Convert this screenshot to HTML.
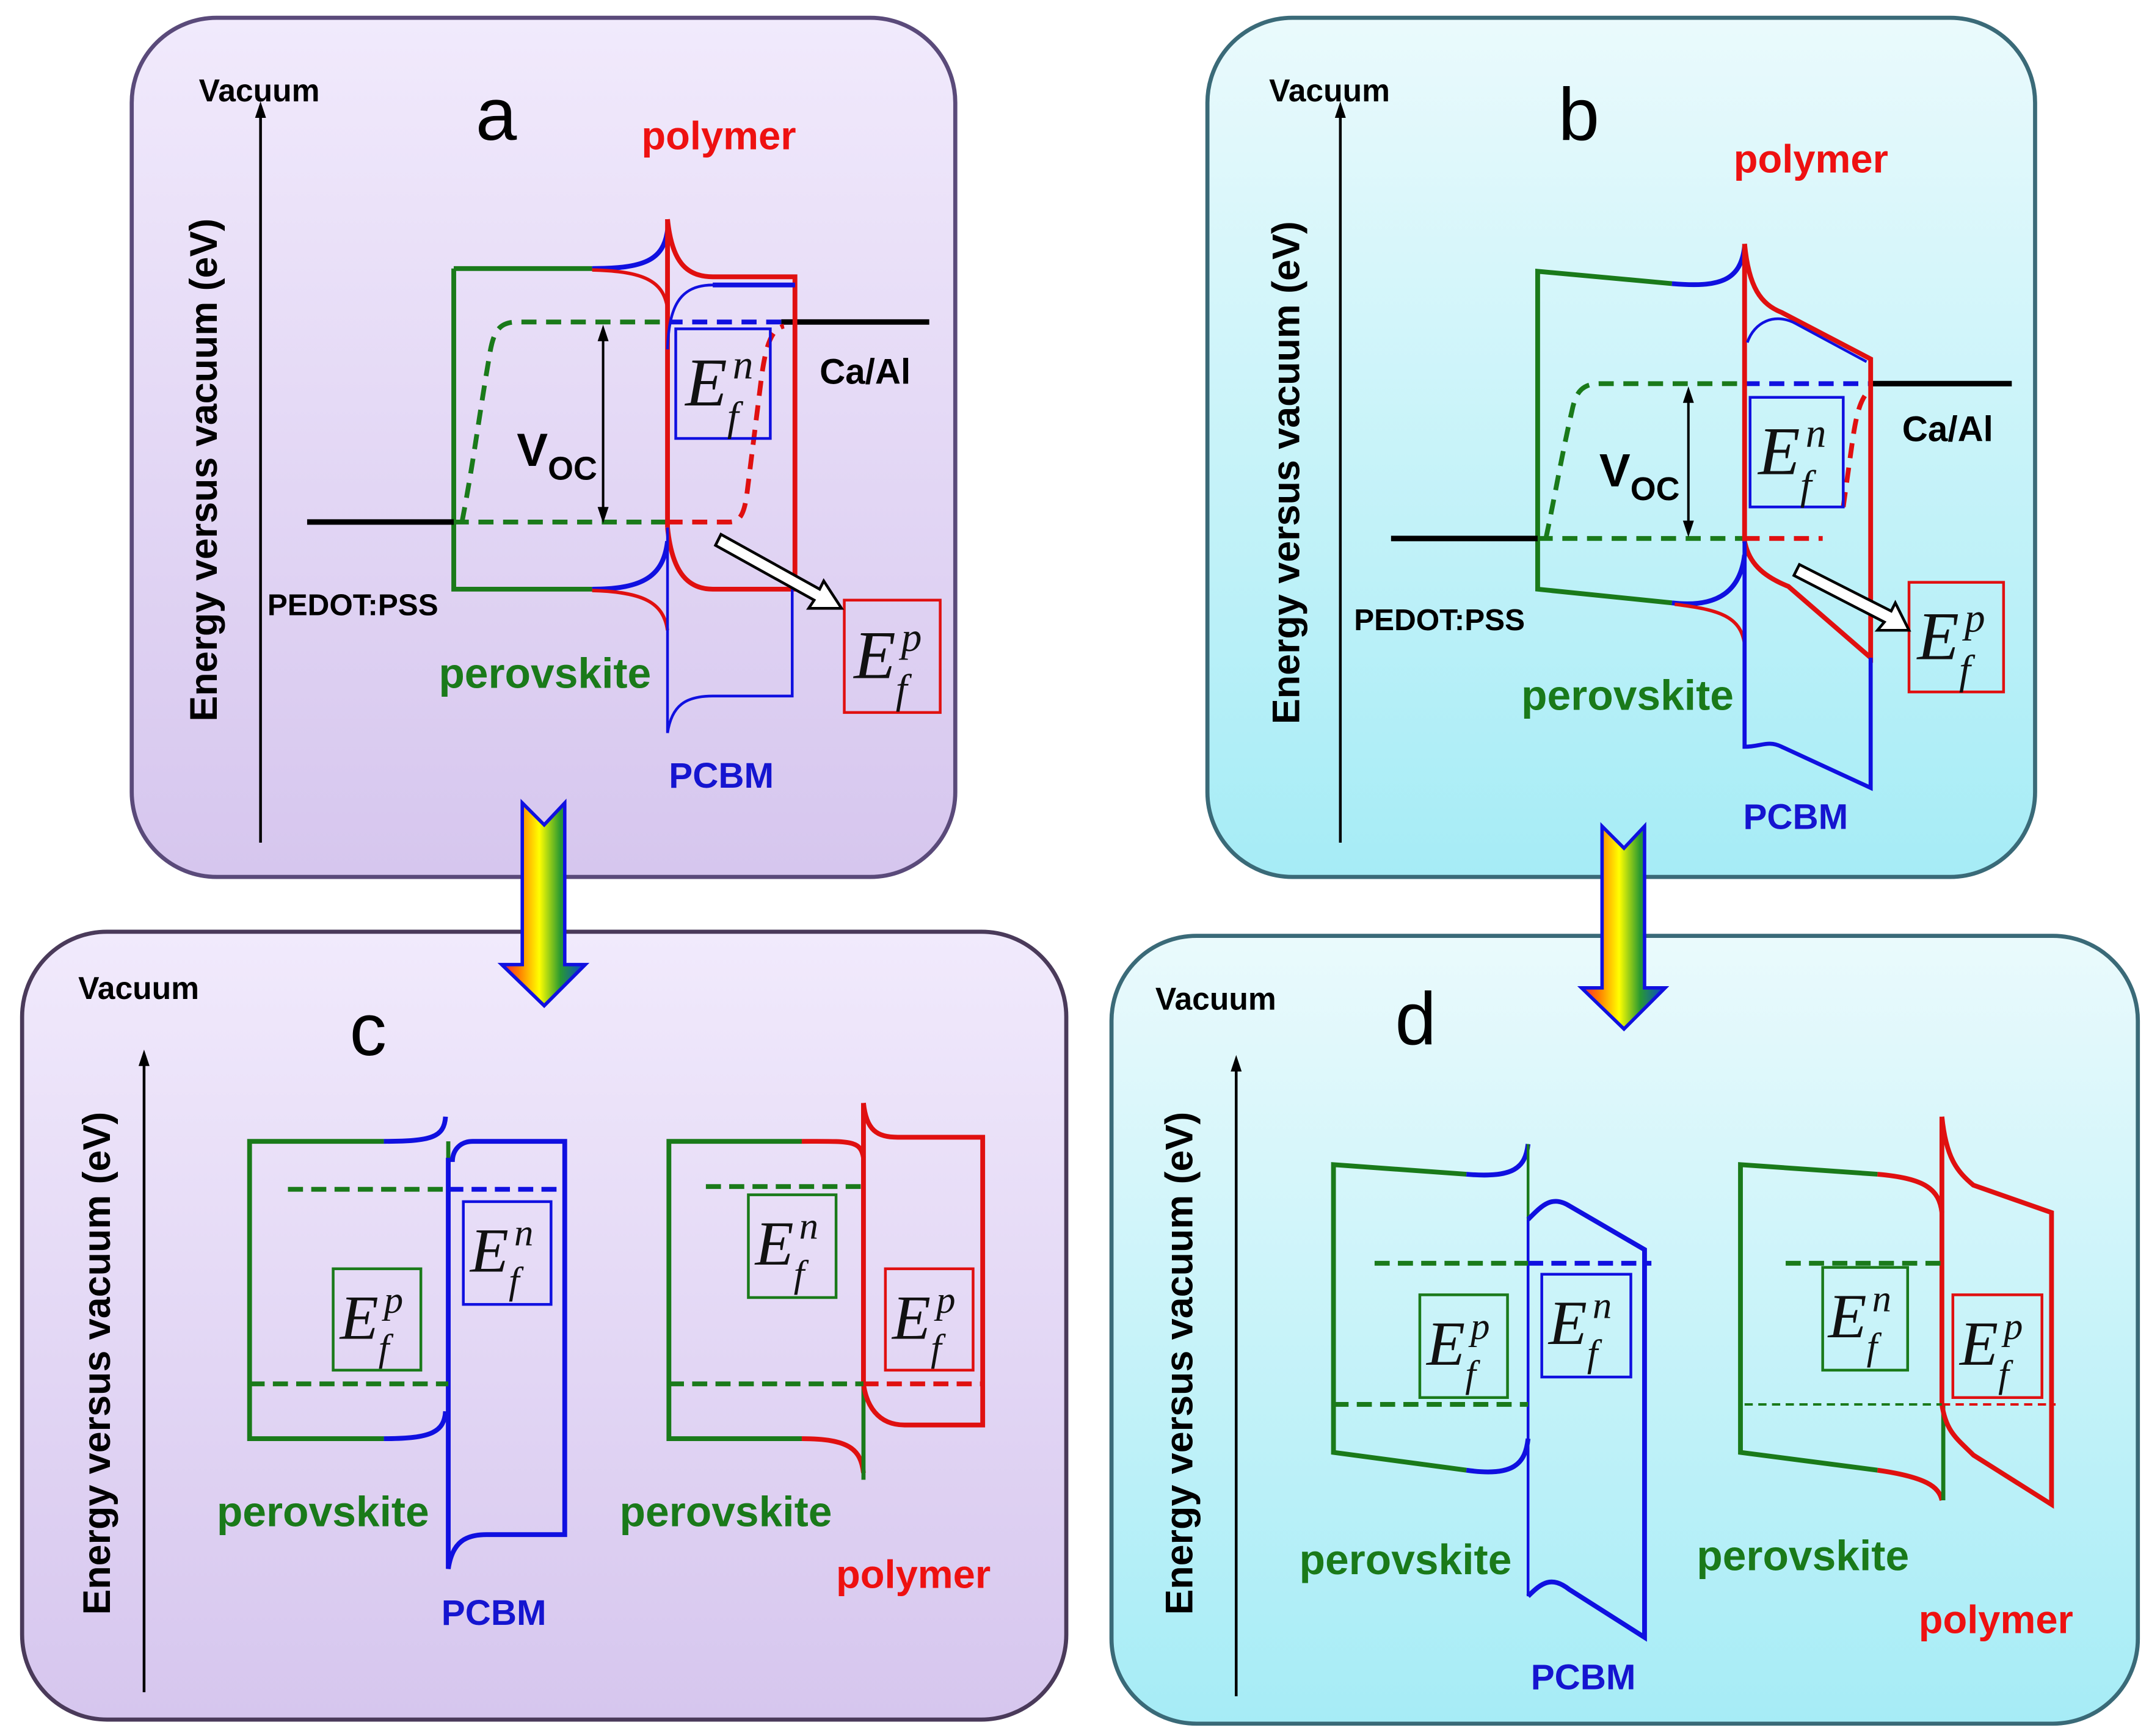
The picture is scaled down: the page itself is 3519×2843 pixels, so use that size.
<!DOCTYPE html>
<html><head><meta charset="utf-8"><style>html,body{margin:0;padding:0;background:#fff}svg{display:block}</style></head>
<body>
<svg width="3519" height="2843" viewBox="0 0 1568 1267" xmlns="http://www.w3.org/2000/svg" font-family="Liberation Sans, sans-serif">
<defs>
<linearGradient id="pur" x1="0" y1="0" x2="0" y2="1"><stop offset="0" stop-color="#f1eafc"/><stop offset="1" stop-color="#d6c6ee"/></linearGradient>
<linearGradient id="cy" x1="0" y1="0" x2="0" y2="1"><stop offset="0" stop-color="#eafafc"/><stop offset="1" stop-color="#a6ecf6"/></linearGradient>
<linearGradient id="rb" x1="0" y1="0" x2="1" y2="0"><stop offset="0" stop-color="#ff1a40"/><stop offset="0.2" stop-color="#ff7a00"/><stop offset="0.45" stop-color="#ffff00"/><stop offset="0.7" stop-color="#2a9a30"/><stop offset="0.9" stop-color="#1060a0"/><stop offset="1" stop-color="#2020ff"/></linearGradient>
</defs>
<rect width="1568" height="1267" fill="#fff"/>
<rect x="96" y="13" width="601" height="627" rx="62" fill="url(#pur)" stroke="#5a4a7a" stroke-width="3"/>
<rect x="881" y="13" width="604" height="627" rx="62" fill="url(#cy)" stroke="#3a6a78" stroke-width="3"/>
<rect x="16" y="680" width="762" height="575" rx="62" fill="url(#pur)" stroke="#4a3a5a" stroke-width="3"/>
<rect x="811" y="683" width="749" height="575" rx="62" fill="url(#cy)" stroke="#3a6a78" stroke-width="3"/>
<polygon points="381,586 397,602 412,586 412,704 427,704 397,734 366,704 381,704" fill="url(#rb)" stroke="#1010e0" stroke-width="2.5"/>
<polygon points="1169,603 1185,619 1200,603 1200,721 1215,721 1185,751 1154,721 1169,721" fill="url(#rb)" stroke="#1010e0" stroke-width="2.5"/>

<g fill="none" stroke-linecap="butt">
<line x1="190" y1="615" x2="190" y2="80" stroke="#000" stroke-width="2"/>
<polygon points="190,74 186,86 194,86" fill="#000"/>
<path d="M331,196 H432 M331,196 V430 H432" stroke="#1a7a1a" stroke-width="3.5"/>
<path d="M432,196 C470,196 484,190 487,168" stroke="#1010e0" stroke-width="3.5"/>
<path d="M432,197 C470,198 484,205 487,225" stroke="#e01010" stroke-width="2.5"/>
<path d="M432,430 C470,430 484,420 487,395" stroke="#1010e0" stroke-width="3.5"/>
<path d="M432,431 C470,432 484,440 487,460" stroke="#e01010" stroke-width="2.5"/>
<line x1="224" y1="381" x2="331" y2="381" stroke="#000" stroke-width="4"/>
<line x1="570" y1="235" x2="678" y2="235" stroke="#000" stroke-width="4"/>
<path d="M331,381 H487 M337,381 C345,340 350,300 357,260 C360,240 365,235 378,235 H487" stroke="#1a7a1a" stroke-width="3.5" stroke-dasharray="11,7"/>
<line x1="487" y1="235" x2="570" y2="235" stroke="#1010e0" stroke-width="3.5" stroke-dasharray="11,7"/>
<path d="M487,381 H532 C540,381 543,375 545,360 L555,280 C558,255 562,240 572,238" stroke="#e01010" stroke-width="3.5" stroke-dasharray="11,7"/>
<line x1="440" y1="245" x2="440" y2="373" stroke="#000" stroke-width="1.8"/>
<polygon points="440,237 436,249 444,249" fill="#000"/><polygon points="440,382 436,370 444,370" fill="#000"/>
<path d="M487,160 V385" stroke="#e01010" stroke-width="3.5"/>
<path d="M487,160 C490,190 500,202 520,202 H580 V430 H520 C500,430 490,415 487,385" stroke="#e01010" stroke-width="3.5"/>
<path d="M487,255 C488,225 495,208 520,208 H580" stroke="#1010e0" stroke-width="2"/>
<path d="M580,208 H520" stroke="#1010e0" stroke-width="3.5"/>
<path d="M487,385 V535 M487,535 C490,515 500,508 520,508 H578 V430" stroke="#1010e0" stroke-width="2"/>
<rect x="493" y="240" width="69" height="80" stroke="#1010e0" stroke-width="2"/>
<rect x="616" y="438" width="70" height="82" stroke="#e01010" stroke-width="2"/>
<polygon points="522,398 526,390 598,430 601,424 614,444 590,444 594,438" fill="#fff" stroke="#000" stroke-width="2"/>

<line x1="978" y1="615" x2="978" y2="80" stroke="#000" stroke-width="2"/>
<polygon points="978,74 974,86 982,86" fill="#000"/>
<path d="M1220,207 L1122,198 V430 L1220,440" stroke="#1a7a1a" stroke-width="3.5"/>
<path d="M1220,207 C1255,210 1270,205 1273,180" stroke="#1010e0" stroke-width="3.5"/>
<path d="M1220,440 C1255,444 1270,430 1273,405" stroke="#1010e0" stroke-width="3.5"/>
<path d="M1222,441 C1255,445 1270,450 1273,470" stroke="#e01010" stroke-width="2.5"/>
<line x1="1015" y1="393" x2="1122" y2="393" stroke="#000" stroke-width="4"/>
<line x1="1365" y1="280" x2="1468" y2="280" stroke="#000" stroke-width="4"/>
<path d="M1122,393 H1273 M1128,393 C1135,360 1140,330 1147,300 C1150,285 1155,280 1168,280 H1273" stroke="#1a7a1a" stroke-width="3.5" stroke-dasharray="11,7"/>
<line x1="1273" y1="280" x2="1365" y2="280" stroke="#1010e0" stroke-width="3.5" stroke-dasharray="11,7"/>
<path d="M1273,393 H1330 M1345,370 L1352,320 C1355,300 1358,290 1365,284" stroke="#e01010" stroke-width="3.5" stroke-dasharray="11,7"/>
<line x1="1232" y1="290" x2="1232" y2="384" stroke="#000" stroke-width="1.8"/>
<polygon points="1232,282 1228,294 1236,294" fill="#000"/><polygon points="1232,392 1228,380 1236,380" fill="#000"/>
<path d="M1273,178 V395" stroke="#e01010" stroke-width="3.5"/>
<path d="M1273,178 C1276,210 1285,222 1300,228 L1365,262 V480 L1305,428 C1285,420 1276,410 1273,395" stroke="#e01010" stroke-width="3.5"/>
<path d="M1275,250 C1280,235 1295,228 1310,236 L1362,264" stroke="#1010e0" stroke-width="2"/>
<path d="M1273,395 V545 C1285,545 1290,540 1300,545 L1365,575 V480" stroke="#1010e0" stroke-width="3"/>
<rect x="1277" y="290" width="68" height="80" stroke="#1010e0" stroke-width="2"/>
<rect x="1393" y="425" width="69" height="80" stroke="#e01010" stroke-width="2"/>
<polygon points="1309,420 1313,412 1380,446 1383,440 1393,460 1370,460 1375,454" fill="#fff" stroke="#000" stroke-width="2"/>

<line x1="105" y1="1235" x2="105" y2="772" stroke="#000" stroke-width="2"/>
<polygon points="105,766 101,778 109,778" fill="#000"/>
<path d="M280,833 H182 V1050 H280" stroke="#1a7a1a" stroke-width="3.5"/>
<path d="M280,833 C315,833 324,830 325,815" stroke="#1010e0" stroke-width="3.5"/>
<path d="M280,1050 C315,1050 324,1045 325,1030" stroke="#1010e0" stroke-width="3.5"/>
<line x1="327" y1="833" x2="327" y2="1040" stroke="#1a7a1a" stroke-width="3"/>
<path d="M327,845 V1145 C330,1125 340,1120 355,1120 H412 V833 H345 C335,833 330,840 330,848" stroke="#1010e0" stroke-width="3.5"/>
<path d="M210,868 H327" stroke="#1a7a1a" stroke-width="3.5" stroke-dasharray="11,6"/>
<path d="M327,868 H410" stroke="#1010e0" stroke-width="3.5" stroke-dasharray="11,6"/>
<path d="M182,1010 H327" stroke="#1a7a1a" stroke-width="3.5" stroke-dasharray="11,6"/>
<rect x="243" y="926" width="64" height="74" stroke="#1a7a1a" stroke-width="2"/>
<rect x="338" y="877" width="64" height="75" stroke="#1010e0" stroke-width="2"/>

<path d="M585,833 H488 V1050 H585" stroke="#1a7a1a" stroke-width="3.5"/>
<path d="M585,833 C620,833 628,832 630,845" stroke="#e01010" stroke-width="3.5"/>
<path d="M585,1050 C620,1050 628,1058 630,1075" stroke="#e01010" stroke-width="3.5"/>
<line x1="630" y1="1010" x2="630" y2="1080" stroke="#1a7a1a" stroke-width="3"/>
<path d="M630,805 V1010 M630,805 C632,825 640,830 655,830 H717 V1040 H660 C640,1040 632,1025 630,1010" stroke="#e01010" stroke-width="3.5"/>
<path d="M515,866 H630" stroke="#1a7a1a" stroke-width="3.5" stroke-dasharray="11,6"/>
<path d="M488,1010 H630" stroke="#1a7a1a" stroke-width="3.5" stroke-dasharray="11,6"/>
<path d="M630,1010 H717" stroke="#e01010" stroke-width="3.5" stroke-dasharray="11,6"/>
<rect x="546" y="872" width="64" height="75" stroke="#1a7a1a" stroke-width="2"/>
<rect x="646" y="926" width="64" height="74" stroke="#e01010" stroke-width="2"/>

<line x1="902" y1="1238" x2="902" y2="776" stroke="#000" stroke-width="2"/>
<polygon points="902,770 898,782 906,782" fill="#000"/>
<path d="M1070,857 L973,850 V1060 L1070,1073" stroke="#1a7a1a" stroke-width="3.5"/>
<path d="M1070,857 C1105,860 1113,852 1115,835" stroke="#1010e0" stroke-width="3.5"/>
<path d="M1070,1073 C1105,1078 1113,1068 1115,1050" stroke="#1010e0" stroke-width="3.5"/>
<line x1="1115" y1="835" x2="1115" y2="1060" stroke="#1a7a1a" stroke-width="2"/>
<path d="M1115,890 C1125,880 1132,872 1145,880 L1200,912 V1195 L1145,1160 C1132,1150 1125,1155 1115,1165" stroke="#1010e0" stroke-width="3.5"/>
<path d="M1115,890 V1165" stroke="#1010e0" stroke-width="2"/>
<path d="M1003,922 H1115" stroke="#1a7a1a" stroke-width="3.5" stroke-dasharray="11,6"/>
<path d="M1115,922 H1205" stroke="#1010e0" stroke-width="3.5" stroke-dasharray="11,6"/>
<path d="M973,1025 H1115" stroke="#1a7a1a" stroke-width="3.5" stroke-dasharray="11,6"/>
<rect x="1036" y="945" width="64" height="75" stroke="#1a7a1a" stroke-width="2"/>
<rect x="1125" y="930" width="65" height="75" stroke="#1010e0" stroke-width="2"/>

<path d="M1370,857 L1270,850 V1060 L1370,1073" stroke="#1a7a1a" stroke-width="3.5"/>
<path d="M1370,857 C1405,860 1415,868 1417,885" stroke="#e01010" stroke-width="3.5"/>
<path d="M1370,1073 C1405,1078 1415,1085 1417,1095" stroke="#e01010" stroke-width="3.5"/>
<line x1="1418" y1="1025" x2="1418" y2="1095" stroke="#1a7a1a" stroke-width="3"/>
<path d="M1417,815 V1025 M1417,815 C1420,845 1428,855 1440,865 L1497,885 V1098 L1440,1062 C1428,1050 1420,1045 1417,1025" stroke="#e01010" stroke-width="3.5"/>
<path d="M1303,922 H1417" stroke="#1a7a1a" stroke-width="3.5" stroke-dasharray="11,6"/>
<path d="M1273,1025 H1417" stroke="#1a7a1a" stroke-width="1.8" stroke-dasharray="6,4"/>
<path d="M1417,1025 H1500" stroke="#e01010" stroke-width="1.8" stroke-dasharray="6,4"/>
<rect x="1330" y="925" width="62" height="75" stroke="#1a7a1a" stroke-width="2"/>
<rect x="1425" y="945" width="65" height="75" stroke="#e01010" stroke-width="2"/>
</g>

<g font-weight="bold">
<text x="145" y="74" font-size="23">Vacuum</text>
<text x="926" y="74" font-size="23">Vacuum</text>
<text x="57" y="729" font-size="23">Vacuum</text>
<text x="843" y="737" font-size="23">Vacuum</text>
<text transform="translate(158,343) rotate(-90)" text-anchor="middle" font-size="28">Energy versus vacuum (eV)</text>
<text transform="translate(948,345) rotate(-90)" text-anchor="middle" font-size="28">Energy versus vacuum (eV)</text>
<text transform="translate(80,995) rotate(-90)" text-anchor="middle" font-size="28">Energy versus vacuum (eV)</text>
<text transform="translate(870,995) rotate(-90)" text-anchor="middle" font-size="28">Energy versus vacuum (eV)</text>
<text x="468" y="109" font-size="29" fill="#ee1111">polymer</text>
<text x="1265" y="126" font-size="29" fill="#ee1111">polymer</text>
<text x="610" y="1159" font-size="29" fill="#ee1111">polymer</text>
<text x="1400" y="1192" font-size="29" fill="#ee1111">polymer</text>
<text x="598" y="280" font-size="26">Ca/Al</text>
<text x="1388" y="322" font-size="26">Ca/Al</text>
<text x="195" y="449" font-size="22">PEDOT:PSS</text>
<text x="988" y="460" font-size="22">PEDOT:PSS</text>
<text x="320" y="502" font-size="31" fill="#1a7a1a">perovskite</text>
<text x="1110" y="518" font-size="31" fill="#1a7a1a">perovskite</text>
<text x="158" y="1114" font-size="31" fill="#1a7a1a">perovskite</text>
<text x="452" y="1114" font-size="31" fill="#1a7a1a">perovskite</text>
<text x="948" y="1149" font-size="31" fill="#1a7a1a">perovskite</text>
<text x="1238" y="1146" font-size="31" fill="#1a7a1a">perovskite</text>
<text x="488" y="575" font-size="26" fill="#1515d0">PCBM</text>
<text x="1272" y="605" font-size="26" fill="#1515d0">PCBM</text>
<text x="322" y="1186" font-size="26" fill="#1515d0">PCBM</text>
<text x="1117" y="1233" font-size="26" fill="#1515d0">PCBM</text>
<text x="377" y="340" font-size="34">V<tspan font-size="24" dy="10">OC</tspan></text>
<text x="1167" y="355" font-size="34">V<tspan font-size="24" dy="10">OC</tspan></text>
</g>
<g font-size="54">
<text x="347" y="102">a</text>
<text x="1137" y="102">b</text>
<text x="255" y="770">c</text>
<text x="1018" y="762">d</text>
</g>
<g font-family="Liberation Serif, serif" font-style="italic" fill="#111">
<text x="500" y="296" font-size="50">E<tspan font-size="30" dx="4" dy="-20">n</tspan><tspan font-size="30" dx="-19" dy="38">f</tspan></text>
<text x="623" y="495" font-size="50">E<tspan font-size="30" dx="4" dy="-20">p</tspan><tspan font-size="30" dx="-19" dy="38">f</tspan></text>
<text x="1283" y="346" font-size="50">E<tspan font-size="30" dx="4" dy="-20">n</tspan><tspan font-size="30" dx="-19" dy="38">f</tspan></text>
<text x="1399" y="481" font-size="50">E<tspan font-size="30" dx="4" dy="-20">p</tspan><tspan font-size="30" dx="-19" dy="38">f</tspan></text>
<text x="248" y="977" font-size="46">E<tspan font-size="28" dx="4" dy="-19">p</tspan><tspan font-size="28" dx="-18" dy="35">f</tspan></text>
<text x="343" y="928" font-size="46">E<tspan font-size="28" dx="4" dy="-19">n</tspan><tspan font-size="28" dx="-18" dy="35">f</tspan></text>
<text x="551" y="923" font-size="46">E<tspan font-size="28" dx="4" dy="-19">n</tspan><tspan font-size="28" dx="-18" dy="35">f</tspan></text>
<text x="651" y="977" font-size="46">E<tspan font-size="28" dx="4" dy="-19">p</tspan><tspan font-size="28" dx="-18" dy="35">f</tspan></text>
<text x="1041" y="996" font-size="46">E<tspan font-size="28" dx="4" dy="-19">p</tspan><tspan font-size="28" dx="-18" dy="35">f</tspan></text>
<text x="1130" y="981" font-size="46">E<tspan font-size="28" dx="4" dy="-19">n</tspan><tspan font-size="28" dx="-18" dy="35">f</tspan></text>
<text x="1334" y="976" font-size="46">E<tspan font-size="28" dx="4" dy="-19">n</tspan><tspan font-size="28" dx="-18" dy="35">f</tspan></text>
<text x="1430" y="996" font-size="46">E<tspan font-size="28" dx="4" dy="-19">p</tspan><tspan font-size="28" dx="-18" dy="35">f</tspan></text>
</g>
</svg>
</body></html>
